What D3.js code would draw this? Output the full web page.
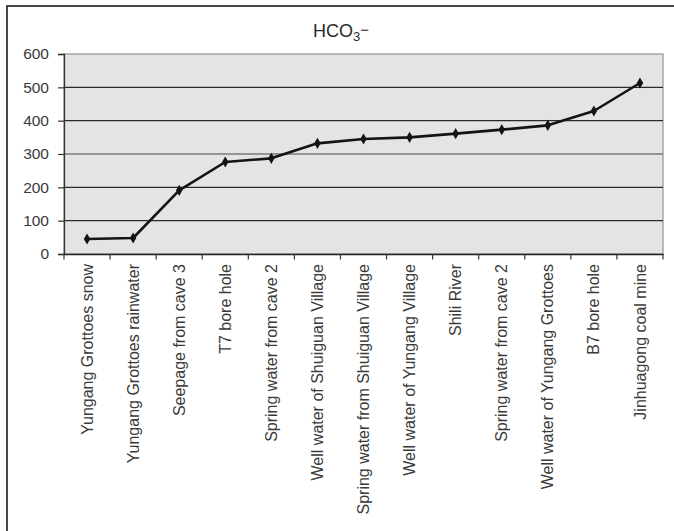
<!DOCTYPE html>
<html><head><meta charset="utf-8">
<script src="https://cdn.jsdelivr.net/npm/d3@7"></script>
<style>
html,body{margin:0;padding:0;background:#fff;}
svg{display:block;font-family:"Liberation Sans",Arial,sans-serif;}
</style></head>
<body><svg id="chart" width="674" height="531"></svg>
<script>
const categories = ["Yungang Grottoes snow","Yungang Grottoes rainwater","Seepage from cave 3","T7 bore hole","Spring water from cave 2","Well water of Shuiguan Village","Spring water from Shuiguan Village","Well water of Yungang Village","Shili River","Spring water from cave 2","Well water of Yungang Grottoes","B7 bore hole","Jinhuagong coal mine"];
const hco3 = [45, 48, 191, 276, 287, 332, 345, 350, 361, 373, 386, 429, 513];
const yTicks = [0, 100, 200, 300, 400, 500, 600];

const svg = d3.select("#chart");
const L = 64, R = 663, T = 54, B = 254;

// outer frame (right/bottom edges fall outside view)
svg.append("rect").attr("x", 7).attr("y", 6).attr("width", 700).attr("height", 560)
  .attr("fill", "#fff").attr("stroke", "#1a1a1a").attr("stroke-width", 1.6);

const x = d3.scaleBand().domain(categories.map((d,i)=>i)).range([L, R]).padding(0);
const y = d3.scaleLinear().domain([0, 600]).range([B, T]);

// plot area
svg.append("rect").attr("x", L).attr("y", T).attr("width", R - L).attr("height", B - T)
  .attr("fill", "#e4e4e4").attr("stroke", "#9a9a9a").attr("stroke-width", 1.3);

// gridlines
svg.append("g").selectAll("line").data(yTicks.filter(v => v > 0 && v < 600)).join("line")
  .attr("x1", L).attr("x2", R).attr("y1", d => y(d)).attr("y2", d => y(d))
  .attr("stroke", d => d === 300 ? "#7a7a7a" : "#2a2a2a")
  .attr("stroke-width", d => d === 300 ? 1.6 : 1.2);

// y axis
const yAxis = svg.append("g").attr("transform", `translate(${L},0)`)
  .call(d3.axisLeft(y).tickValues(yTicks).tickSize(6).tickPadding(9));
yAxis.select(".domain").attr("stroke", "#333").attr("stroke-width", 1.3);
yAxis.selectAll(".tick line").attr("stroke", "#333").attr("stroke-width", 1.2);
yAxis.selectAll(".tick text").attr("font-size", "15.5px").attr("fill", "#3a3a3a")
  .attr("font-family", "Liberation Sans, Arial, sans-serif");

// x axis line and boundary ticks
const xAxis = svg.append("g").attr("transform", `translate(0,${B})`)
  .call(d3.axisBottom(x).tickSize(0).tickFormat(""));
xAxis.select(".domain").attr("stroke", "#222").attr("stroke-width", 1.4);
const bounds = d3.range(categories.length + 1).map(i => i === categories.length ? x.range()[1] : x(i));
svg.append("g").selectAll("line").data(bounds).join("line")
  .attr("x1", d => d).attr("x2", d => d).attr("y1", B).attr("y2", B + 5.5)
  .attr("stroke", "#333").attr("stroke-width", 1.2);

// x labels
svg.append("g").selectAll("text").data(categories).join("text")
  .attr("transform", (d,i) => `translate(${x(i) + x.bandwidth()/2},264) rotate(-90)`)
  .attr("text-anchor", "end").attr("dy", "0.35em")
  .attr("font-size", "16px").attr("fill", "#3a3a3a").text(d => d);

// line
const line = d3.line().x((d,i) => x(i) + x.bandwidth()/2).y(d => y(d));
svg.append("path").datum(hco3).attr("d", line).attr("fill", "none")
  .attr("stroke", "#141414").attr("stroke-width", 2.6).attr("stroke-linejoin", "round");

// diamond markers
svg.append("g").selectAll("path").data(hco3).join("path")
  .attr("transform", (d,i) => `translate(${x(i) + x.bandwidth()/2},${y(d)})`)
  .attr("d", d3.symbol(d3.symbolDiamond, 36)).attr("fill", "#141414");

// title
const title = svg.append("text").attr("x", 341).attr("y", 37).attr("text-anchor", "middle")
  .attr("font-size", "18px").attr("fill", "#2a2a2a");
title.append("tspan").text("HCO");
title.append("tspan").attr("font-size", "13px").attr("dy", 4).text("3");
title.append("tspan").attr("font-size", "15px").attr("dy", -6).text("−");
</script></body></html>
